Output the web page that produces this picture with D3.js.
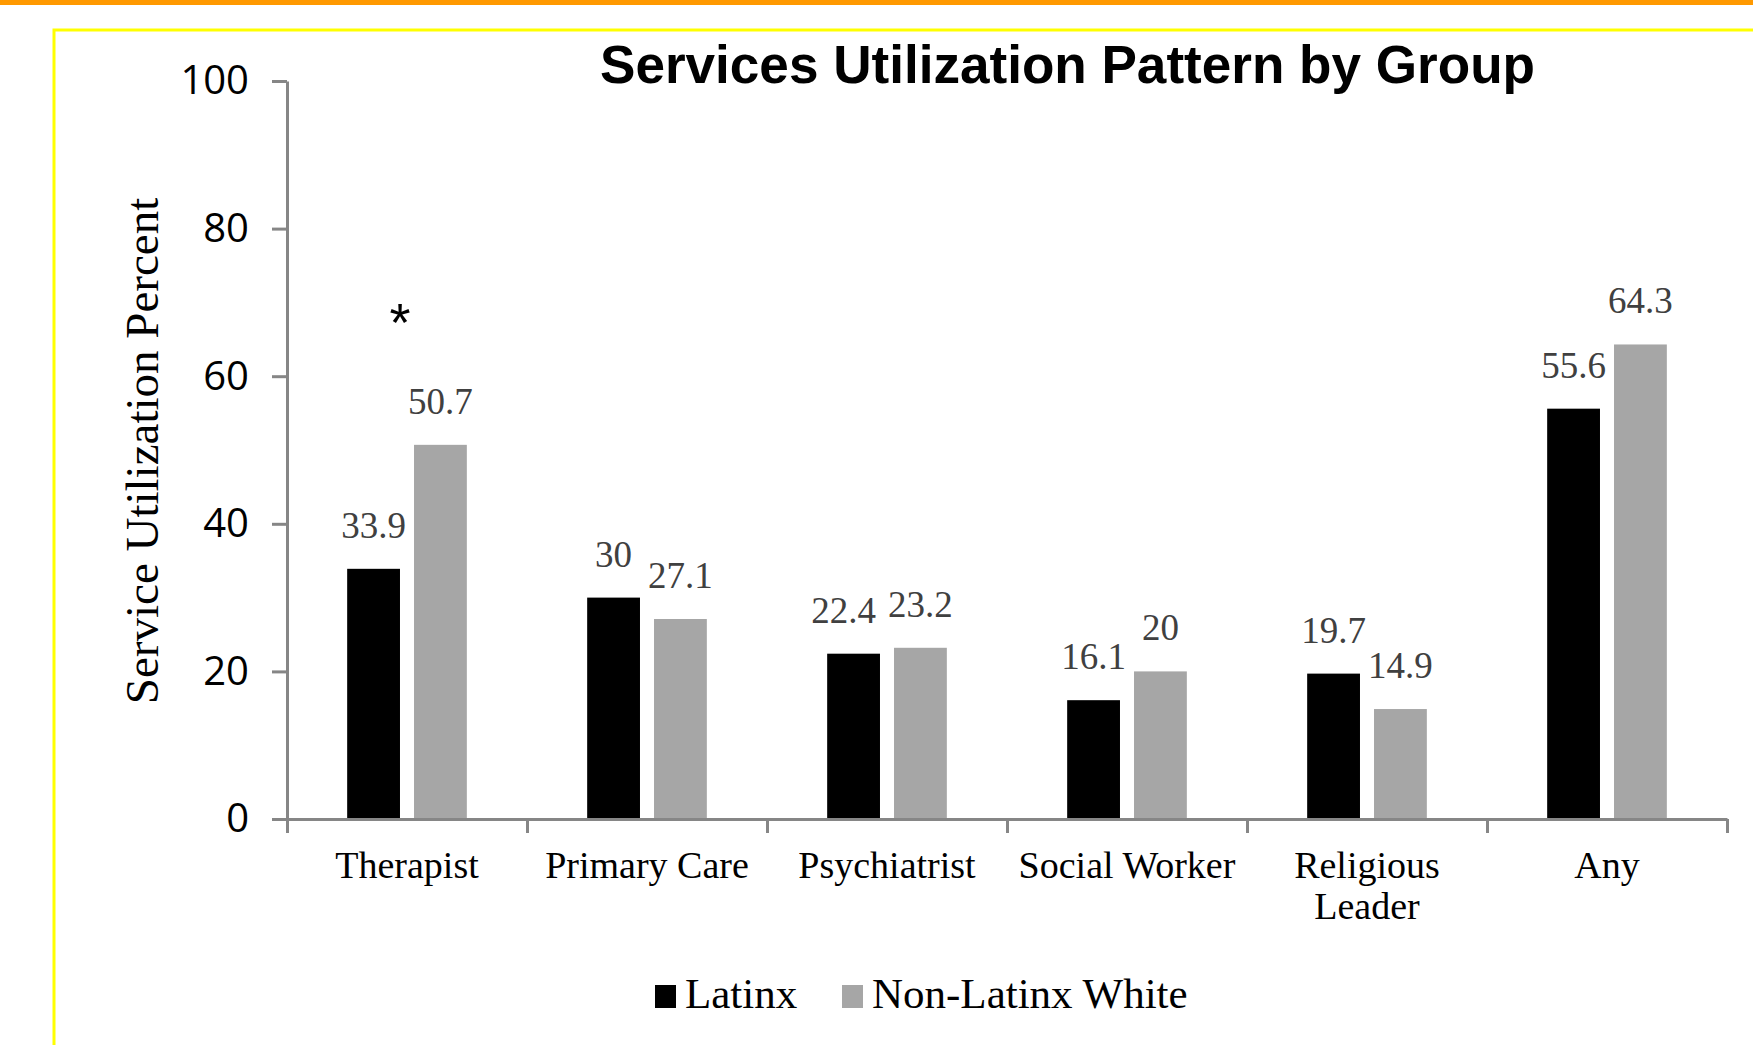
<!DOCTYPE html>
<html>
<head>
<meta charset="utf-8">
<script src="https://cdn.jsdelivr.net/npm/d3@7"></script>
<style>
  body { margin: 0; background: #fff; }
  svg { display: block; }
</style>
</head>
<body>
<div id="chart"></div>
<script>
// Size of page
let width = 1753;
let height = 1045;

// Data
let categories = ["Therapist", "Primary Care", "Psychiatrist", "Social Worker", "Religious Leader", "Any"];
let categoryLines = [["Therapist"], ["Primary Care"], ["Psychiatrist"], ["Social Worker"], ["Religious", "Leader"], ["Any"]];
let seriesNames = ["Latinx", "Non-Latinx White"];
let latinx = [33.9, 30, 22.4, 16.1, 19.7, 55.6];
let nonLatinx = [50.7, 27.1, 23.2, 20, 14.9, 64.3];
let yTicks = [0, 20, 40, 60, 80, 100];
let colors = ["#000000", "#a6a6a6"];

// Plot area
let plotLeft = 287, plotRight = 1727, plotTop = 81, plotBottom = 819;

let svg = d3.select('#chart')
.append('svg')
.attr('width', width)
.attr('height', height);

// Orange strip at the top and yellow frame
svg.append('rect')
.attr('x', 0).attr('y', 0)
.attr('width', width).attr('height', 5)
.attr('fill', '#ff9900');

svg.append('rect')
.attr('x', 54).attr('y', 30)
.attr('width', width).attr('height', height)
.attr('fill', 'none')
.attr('stroke', '#ffff00')
.attr('stroke-width', 3);

// Scales
let x0 = d3.scaleBand()
.domain(categories)
.range([plotLeft, plotRight])
.padding(0);

let x1 = d3.scaleBand()
.domain(seriesNames)
.range([0, x0.bandwidth()])
.paddingInner(0.21)
.paddingOuter(0.9);

let y = d3.scaleLinear()
.domain([0, 100])
.range([plotBottom, plotTop]);

// Edges between categories, for the x axis ticks
let xEdge = d3.scaleLinear()
.domain([0, categories.length])
.range([plotLeft, plotRight]);

// Title
svg.append('text')
.attr('x', 600)
.attr('y', 83)
.attr('textLength', 935)
.attr('lengthAdjust', 'spacingAndGlyphs')
.style('font-family', '"Liberation Sans", Arial, sans-serif')
.style('font-weight', 'bold')
.style('font-size', '54px')
.attr('fill', '#000')
.text('Services Utilization Pattern by Group');

// Bars
let groups = svg.append('g')
.selectAll('g')
.data(categories)
.enter()
.append('g')
.attr('transform', function(d){ return 'translate(' + x0(d) + ',0)'; });

groups.selectAll('rect')
.data(function(d, i){ return [
    {name: seriesNames[0], value: latinx[i], color: colors[0]},
    {name: seriesNames[1], value: nonLatinx[i], color: colors[1]}
]; })
.enter()
.append('rect')
.attr('x', function(d){ return x1(d.name); })
.attr('y', function(d){ return y(d.value); })
.attr('width', x1.bandwidth())
.attr('height', function(d){ return y(0) - y(d.value); })
.attr('fill', function(d){ return d.color; });

// Value labels
groups.each(function(cat, i){
    let g = d3.select(this);
    let pair = [
        {name: seriesNames[0], value: latinx[i]},
        {name: seriesNames[1], value: nonLatinx[i]}
    ];
    let labels = g.selectAll('.value')
    .data(pair)
    .enter()
    .append('text')
    .attr('class', 'value')
    .attr('x', function(d){ return x1(d.name) + x1.bandwidth() / 2; })
    .attr('y', function(d){ return y(d.value) - 31; })
    .attr('text-anchor', 'middle')
    .style('font-family', '"Liberation Serif", "Times New Roman", serif')
    .style('font-size', '37px')
    .attr('fill', '#404040')
    .text(function(d){ return d.value; });

    // If the two labels sit at about the same height and touch, push the left one away
    let nodes = labels.nodes();
    let w0 = nodes[0].getComputedTextLength();
    let w1 = nodes[1].getComputedTextLength();
    let dy = Math.abs(y(pair[0].value) - y(pair[1].value));
    let gap = (x1(pair[1].name) - x1(pair[0].name)) - (w0 + w1) / 2;
    if (dy < 30 && gap < 12) {
        d3.select(nodes[0]).attr('x', x1(pair[0].name) + x1.bandwidth() / 2 - (12 - gap));
    }
});

// Significance mark on Therapist
svg.append('text')
.attr('x', x0('Therapist') + x0.bandwidth() / 2 - 7)
.attr('y', 341)
.attr('text-anchor', 'middle')
.style('font-family', '"Liberation Sans", Arial, sans-serif')
.style('font-size', '54px')
.attr('fill', '#000')
.text('*');

// Y axis
let yAxis = svg.append('g')
.attr('transform', 'translate(' + plotLeft + ',0)')
.call(d3.axisLeft(y).tickValues(yTicks).tickSizeInner(15).tickSizeOuter(0).tickPadding(23));

// X axis, ticks at category edges
let xAxis = svg.append('g')
.attr('transform', 'translate(0,' + plotBottom + ')')
.call(d3.axisBottom(xEdge).tickValues(d3.range(categories.length + 1)).tickSizeInner(14).tickSizeOuter(0).tickFormat(''));

svg.selectAll('.domain, .tick line')
.attr('stroke', '#868686')
.attr('stroke-width', 3);

yAxis.selectAll('.tick text')
.style('font-family', '"Open Sans", "Noto Sans", sans-serif')
.style('font-size', '40px')
.attr('fill', '#000');

// Category labels
let catLabels = svg.append('g')
.selectAll('text')
.data(categories)
.enter()
.append('text')
.attr('x', function(d){ return x0(d) + x0.bandwidth() / 2; })
.attr('y', 878)
.attr('text-anchor', 'middle')
.style('font-family', '"Liberation Serif", "Times New Roman", serif')
.style('font-size', '38px')
.attr('fill', '#000');

catLabels.selectAll('tspan')
.data(function(d, i){ return categoryLines[i]; })
.enter()
.append('tspan')
.attr('x', function(){ let p = d3.select(this.parentNode).datum(); return x0(p) + x0.bandwidth() / 2; })
.attr('dy', function(d, i){ return i == 0 ? 0 : 41; })
.text(function(d){ return d; });

// Y axis title
svg.append('text')
.attr('transform', 'translate(158,451) rotate(-90)')
.attr('text-anchor', 'middle')
.style('font-family', '"Liberation Serif", "Times New Roman", serif')
.style('font-size', '47px')
.attr('fill', '#000')
.text('Service Utilization Percent');

// Legend
let legendX = [655, 842];
let legend = svg.append('g')
.selectAll('g')
.data(seriesNames)
.enter()
.append('g')
.attr('transform', function(d, i){ return 'translate(' + legendX[i] + ',0)'; });

legend.append('rect')
.attr('x', 0)
.attr('y', 985)
.attr('width', 21)
.attr('height', 23)
.attr('fill', function(d, i){ return colors[i]; });

legend.append('text')
.attr('x', 30)
.attr('y', 1008)
.style('font-family', '"Liberation Serif", "Times New Roman", serif')
.style('font-size', '43px')
.attr('fill', '#000')
.text(function(d){ return d; });
</script>
</body>
</html>
